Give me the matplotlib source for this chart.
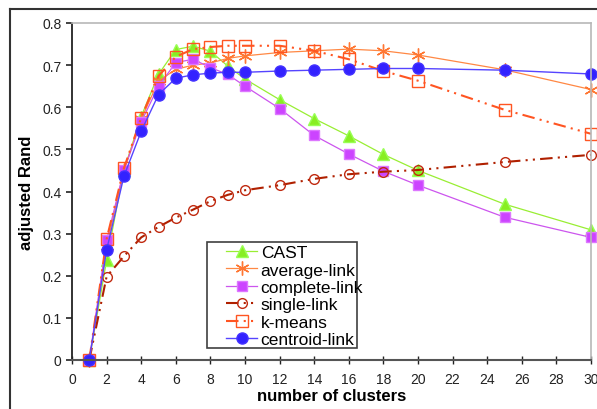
import matplotlib
matplotlib.use("Agg")
import matplotlib.pyplot as plt
from matplotlib.lines import Line2D
from matplotlib.patches import Rectangle

plt.rcParams['font.family'] = ['Liberation Sans', 'DejaVu Sans']

clusters = [1, 2, 3, 4, 5, 6, 7, 8, 9, 10, 12, 14, 16, 18, 20, 25, 30]

cast = [0, 0.237, 0.45, 0.578, 0.678, 0.737, 0.745, 0.733, 0.698, 0.667,
        0.618, 0.573, 0.532, 0.488, 0.45, 0.37, 0.309]
average_link = [0, 0.27, 0.45, 0.572, 0.662, 0.69, 0.70, 0.705, 0.716, 0.722,
                0.73, 0.734, 0.738, 0.734, 0.724, 0.689, 0.642]
complete_link = [0, 0.284, 0.45, 0.565, 0.65, 0.706, 0.714, 0.694, 0.678, 0.65,
                 0.597, 0.533, 0.489, 0.448, 0.415, 0.339, 0.291]
single_link = [0, 0.198, 0.246, 0.291, 0.316, 0.338, 0.357, 0.377, 0.392, 0.403,
               0.415, 0.43, 0.441, 0.447, 0.451, 0.47, 0.487]
k_means = [0, 0.287, 0.455, 0.575, 0.674, 0.72, 0.738, 0.743, 0.746, 0.746,
           0.746, 0.734, 0.714, 0.686, 0.663, 0.594, 0.537]
centroid_link = [0, 0.261, 0.436, 0.543, 0.63, 0.669, 0.677, 0.681, 0.683, 0.683,
                 0.686, 0.688, 0.69, 0.692, 0.692, 0.688, 0.679]

labels = ['CAST', 'average-link', 'complete-link', 'single-link', 'k-means', 'centroid-link']

fig = plt.figure(figsize=(5.97, 4.10), dpi=100)
ax = fig.add_axes([72 / 597, 49 / 410, 519 / 597, 337 / 410])

dd = (0, (6, 2.5, 1, 2.5, 1, 2.5))
styles = [
    dict(color='#99ee33', lw=0.9, marker='^', ms=8, mfc='#88ee22', mec='#99ff55'),
    dict(color='#ff8844', lw=0.9, marker=(6, 2, 0), ms=10, mew=1.0, mec='#ff7733'),
    dict(color='#cc55ee', lw=0.9, marker='s', ms=7.5, mfc='#cc44ff', mec='#dd77ff'),
    dict(color='#b02000', lw=1.5, ls=dd, marker='o', ms=7, mfc='none', mec='#c02a10', mew=1.0),
    dict(color='#ff5522', lw=1.5, ls=dd, marker='s', ms=8, mfc='none', mec='#ff5522', mew=1.0),
    dict(color='#5544ff', lw=1.0, marker='o', ms=8, mfc='#3322ff', mec='#4433ff'),
]
series = [cast, average_link, complete_link, single_link, k_means, centroid_link]
for ys, st, lab in zip(series, styles, labels):
    ax.plot(clusters, ys, label=lab, clip_on=False, **st)

ax.set_xlim(0, 30)
ax.set_ylim(0, 0.8)
ax.set_xticks(range(0, 31, 2))
ax.set_yticks([0, 0.1, 0.2, 0.3, 0.4, 0.5, 0.6, 0.7, 0.8])
ax.set_yticklabels(['0', '0.1', '0.2', '0.3', '0.4', '0.5', '0.6', '0.7', '0.8'])
ax.tick_params(axis='both', labelsize=10, colors='#222222')
ax.tick_params(axis='y', direction='out', length=4, width=1.2)
ax.tick_params(axis='x', direction='inout', length=6, width=1.0, pad=6)

for s in ['top', 'right']:
    ax.spines[s].set_color('#b8b8b8')
    ax.spines[s].set_linewidth(1.2)
ax.spines['left'].set_color('#222222')
ax.spines['left'].set_linewidth(1.3)
ax.spines['bottom'].set_color('#555555')
ax.spines['bottom'].set_linewidth(1.5)

ax.set_xlabel('number of clusters', fontsize=12, fontweight='bold', labelpad=1)
ax.set_ylabel('adjusted Rand', fontsize=12, fontweight='bold', labelpad=6)

# legend: entries without frame, frame drawn separately (wide left margin)
handles = [Line2D([], [], **st) for st in styles]
leg = ax.legend(handles, labels, loc='upper left',
                bbox_to_anchor=((226 - 72) / 519, (361 - 246) / 337),
                borderaxespad=0, borderpad=0, fontsize=12.5, frameon=False,
                handlelength=1.8, handletextpad=0.2, labelspacing=0.13)
frame = Rectangle(((207 - 72) / 519, (361 - 349) / 337), 150 / 519, 106 / 337,
                  transform=ax.transAxes, facecolor='white', edgecolor='#404040',
                  lw=1.2, zorder=4.9)
ax.add_patch(frame)
leg.set_zorder(5)

# outer frame of the original figure
fig.add_artist(Line2D([10 / 597, 1], [1 - 10 / 410, 1 - 10 / 410],
                      transform=fig.transFigure, color='#333333', lw=1.5))
fig.add_artist(Line2D([10 / 597, 10 / 597], [0, 1 - 10 / 410],
                      transform=fig.transFigure, color='#333333', lw=1.5))

fig.savefig('out.png', dpi=100)
